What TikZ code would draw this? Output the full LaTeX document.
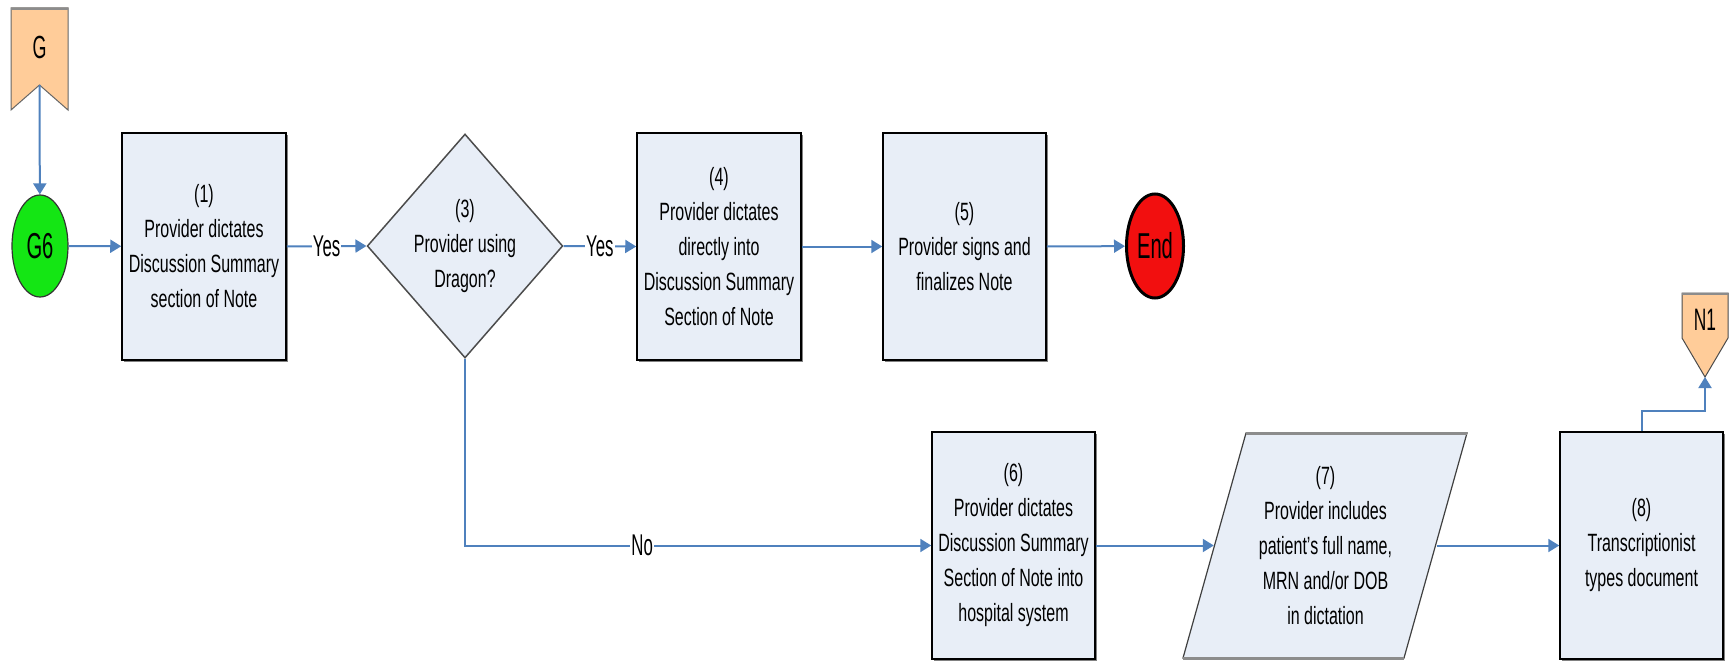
\documentclass[tikz,border=0pt]{standalone}
\usepackage{fontspec}
\setmainfont{Liberation Sans}[FakeStretch=0.64]
\newfontfamily\narrowf{Liberation Sans}[FakeStretch=0.56]
\usetikzlibrary{shapes.geometric,arrows.meta,shadows}
\definecolor{boxfill}{HTML}{E8EEF7}
\definecolor{flowblue}{HTML}{4F81BD}
\definecolor{peach}{HTML}{FFCC99}
\definecolor{brightgreen}{HTML}{14E614}
\definecolor{brightred}{HTML}{F20F0F}
\tikzset{
  bodytext/.style={font=\fontsize{25}{35}\selectfont, align=center, text=black},
  procbox/.style={rectangle, draw=black, line width=1.5pt, fill=boxfill,
     minimum width=164pt, minimum height=227pt, inner sep=0pt, bodytext,
     drop shadow={shadow xshift=1.8pt, shadow yshift=-1.8pt, opacity=0.7, fill=black!70}},
  decbox/.style={diamond, draw=black!70, line width=1.5pt, fill=boxfill,
     minimum width=184pt, minimum height=224pt, inner sep=0pt, bodytext},
  iotext/.style={rectangle, minimum width=223pt, minimum height=225pt, inner sep=0pt, bodytext},
  termnode/.style={ellipse, inner sep=0pt, font=\narrowf\fontsize{36}{36}\selectfont},
  flow/.style={draw=flowblue, line width=2pt, -{Triangle[length=11pt,width=13pt]}},
  lbl/.style={fill=white, inner sep=1pt, font=\narrowf\fontsize{30}{30}\selectfont, text=black},
}
\begin{document}
\begin{tikzpicture}[x=1pt,y=-1pt]
\useasboundingbox (0,0) rectangle (1729,661);

% off-page connector G
\path[fill=peach, draw=black!60, line width=1pt] (11,8) -- (68,8) -- (68,110) -- (39.5,85) -- (11,110) -- cycle;
\draw[black!45, line width=2.5pt] (11,9) -- (68,9);
\node[font=\narrowf\fontsize{32}{32}\selectfont] (Glbl) at (39.5,47) {G};
\coordinate (Gnotch) at (39.5,85);

% off-page connector N1
\path[fill=peach, draw=black!70, line width=1pt] (1682,293) -- (1728,293) -- (1728,338) -- (1705,377) -- (1682,338) -- cycle;
\draw[black!45, line width=2.5pt] (1682,294) -- (1728,294);
\node[font=\narrowf\fontsize{31}{31}\selectfont] (N1lbl) at (1705,320) {N1};
\coordinate (N1tip) at (1705,377);

% terminators
\node[termnode, fill=brightgreen, draw=black!80, line width=1.2pt, minimum width=56pt, minimum height=102pt] (G6) at (40,246) {G6};
\node[termnode, fill=brightred, draw=black, line width=3pt, minimum width=57pt, minimum height=104pt] (End) at (1155,246) {End};

% process boxes
\node[procbox] (b1) at (204,246.5) {(1)\\Provider dictates\\Discussion Summary\\section of Note};
\node[decbox] (b3) at (465,246) {(3)\\Provider using\\Dragon?};
\node[procbox] (b4) at (719,246.5) {(4)\\Provider dictates\\directly into\\Discussion Summary\\Section of Note};
\node[procbox, minimum width=163pt] (b5) at (964.5,246.5) {(5)\\Provider signs and\\finalizes Note};
\node[procbox, minimum width=163pt] (b6) at (1013.5,545.5) {(6)\\Provider dictates\\Discussion Summary\\Section of Note into\\hospital system};

% parallelogram (7)
\path[fill=boxfill, draw=black!75, line width=1.2pt] (1246,433) -- (1467,433) -- (1404,658) -- (1183,658) -- cycle;
\draw[black!45, line width=3pt] (1246,433) -- (1467,433);
\draw[black!45, line width=3pt] (1183,658) -- (1404,658);
\node[iotext] (b7) at (1325.5,545.5) {(7)\\Provider includes\\patient's full name,\\MRN and/or DOB\\in dictation};

\node[procbox, minimum width=163pt] (b8) at (1641.5,545.5) {(8)\\Transcriptionist\\types document};

% connectors
\draw[flow] (Gnotch) -- (G6);
\draw[flow] (G6) -- (b1);
\draw[flow] (b1.east) -- node[lbl] {Yes} (b3.west);
\draw[flow] (b3.east) -- node[lbl] {Yes} (b4.west);
\draw[flow] (b4.east) -- (b5.west);
\draw[flow] (b5.east) -- (End);
\draw[flow] (b3.south) |- node[lbl, pos=0.69] {No} (b6.west);
\draw[flow] (b6.east) -- (b7.west);
\draw[flow] (b7.east) -- (b8.west);
\draw[flow] (b8.north) -- ++(0,-20) -| (N1tip);
\end{tikzpicture}
\end{document}
